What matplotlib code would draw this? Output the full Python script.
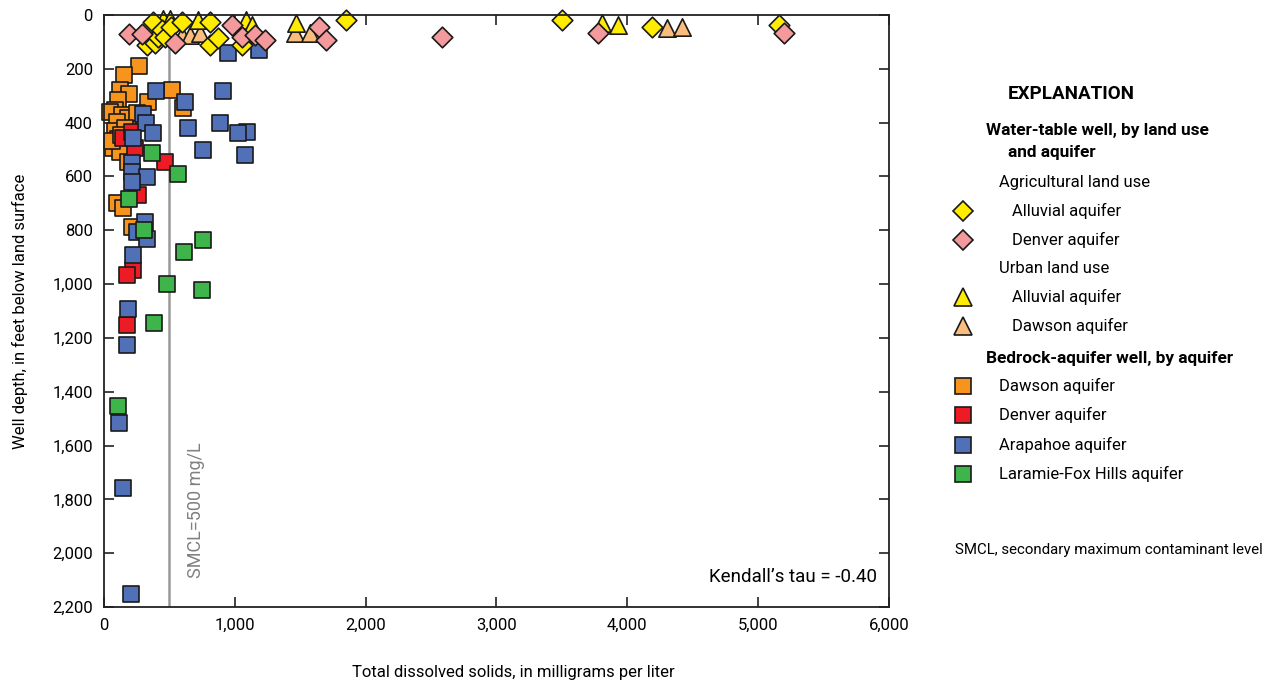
import matplotlib
matplotlib.use("Agg")
import matplotlib.pyplot as plt
from matplotlib.lines import Line2D
from matplotlib.ticker import FuncFormatter

plt.rcParams['font.family'] = ['Roboto', 'DejaVu Sans']

# ---------------- data (TDS mg/L, well depth ft) ----------------
ag_alluvial_tds = [377, 326, 390, 413, 441, 466, 512, 594, 810, 810, 872, 1053, 1848, 3499, 4187, 5163]
ag_alluvial_depth = [25, 111, 105, 80, 56, 80, 43, 25, 25, 111, 86, 111, 19, 19, 43, 37]

ag_denver_tds = [194, 288, 543, 976, 1053, 1154, 1231, 1646, 1697, 2580, 3779, 5194]
ag_denver_depth = [72, 72, 105, 37, 80, 74, 93, 43, 93, 82, 68, 68]

urban_alluvial_tds = [450, 505, 721, 1086, 1129, 1468, 3805, 3927]
urban_alluvial_depth = [15, 15, 19, 19, 37, 31, 31, 37]

urban_dawson_tds = [594, 657, 734, 1460, 1575, 4302, 4417]
urban_dawson_depth = [74, 74, 67, 68, 68, 49, 43]

bed_dawson_tds = [270, 153, 122, 194, 110, 339, 517, 607, 84, 46, 135, 186, 249, 97, 84,
                  160, 110, 71, 122, 186, 97, 143, 216, 60, 130]
bed_dawson_depth = [188, 223, 279, 294, 316, 322, 279, 347, 353, 359, 372, 384, 365, 396, 430,
                    420, 460, 495, 508, 545, 699, 718, 787, 470, 445]

bed_denver_tds = [148, 212, 237, 466, 262, 219, 173, 173]
bed_denver_depth = [458, 434, 495, 545, 669, 948, 966, 1152]

bed_arapahoe_tds = [950, 1188, 397, 907, 619, 296, 321, 377, 645, 887, 1091, 1027, 219, 760, 1078,
                    216, 212, 331, 212, 313, 250, 326, 224, 186, 173, 115, 143, 204]
bed_arapahoe_depth = [140, 130, 281, 281, 322, 368, 400, 440, 419, 400, 434, 440, 458, 502, 520,
                      549, 582, 601, 619, 768, 805, 834, 892, 1093, 1226, 1515, 1759, 2152]

bed_lfh_tds = [369, 563, 191, 308, 754, 612, 484, 747, 385, 110]
bed_lfh_depth = [514, 591, 684, 800, 836, 882, 1001, 1022, 1146, 1452]

smcl = 500
x_ticks = [0, 1000, 2000, 3000, 4000, 5000, 6000]
y_ticks = [0, 200, 400, 600, 800, 1000, 1200, 1400, 1600, 1800, 2000, 2200]

# ---------------- styles ----------------
C_YEL = '#FFEC00'
C_PINK = '#F49A9C'
C_LORANGE = '#F9BD7D'
C_ORANGE = '#F7941D'
C_RED = '#ED1C24'
C_BLUE = '#5070B8'
C_GREEN = '#3DB54A'
EC = '#1a1a1a'

W, H = 1276, 688
fig = plt.figure(figsize=(W / 100, H / 100), dpi=100)
ax = fig.add_axes([104 / W, 1 - 607 / H, (889 - 104) / W, (607 - 15) / H])

ax.set_xlim(0, 6000)
ax.set_ylim(2200, 0)

ax.axvline(smcl, color='#999999', lw=1.8, zorder=1)

sq = 12.2 ** 2
dia = 10.5 ** 2
tri = 12.5 ** 2
lw = 1.2

series = [
    (bed_dawson_tds, bed_dawson_depth, 's', C_ORANGE, sq),
    (bed_denver_tds, bed_denver_depth, 's', C_RED, sq),
    (bed_arapahoe_tds, bed_arapahoe_depth, 's', C_BLUE, sq),
    (bed_lfh_tds, bed_lfh_depth, 's', C_GREEN, sq),
    (urban_dawson_tds, urban_dawson_depth, '^', C_LORANGE, tri),
    (urban_alluvial_tds, urban_alluvial_depth, '^', C_YEL, tri),
    (ag_alluvial_tds, ag_alluvial_depth, 'D', C_YEL, dia),
    (ag_denver_tds, ag_denver_depth, 'D', C_PINK, dia),
]
for i, (xs, ys, m, c, s) in enumerate(series):
    ax.scatter(xs, ys, marker=m, s=s, facecolor=c, edgecolor=EC, linewidth=lw,
               zorder=3 + i, clip_on=False)

comma = FuncFormatter(lambda v, p: f"{int(v):,}")
ax.set_xticks(x_ticks)
ax.set_yticks(y_ticks)
ax.xaxis.set_major_formatter(comma)
ax.yaxis.set_major_formatter(comma)
ax.tick_params(direction='in', length=7, width=1.2, color='#222222', labelsize=12,
               top=True, right=True, pad=8)
for sp in ax.spines.values():
    sp.set_linewidth(1.3)
    sp.set_color('#222222')
    sp.set_zorder(20)

fig.text(513 / W, 1 - 673 / H, 'Total dissolved solids, in milligrams per liter',
         ha='center', va='center', fontsize=12)
fig.text(20 / W, 1 - 311 / H, 'Well depth, in feet below land surface',
         ha='center', va='center', rotation=90, fontsize=12)

ax.text(0.985, 0.05, "Kendall\u2019s tau = -0.40", transform=ax.transAxes,
        ha='right', va='center', fontsize=13.5)
ax.text(smcl + 200, 1840, 'SMCL=500 mg/L', rotation=90, ha='center', va='center',
        fontsize=13, color='#808080')


# ---------------- explanation ----------------
def ftext(x, y, s, size=12, **kw):
    fig.text(x / W, 1 - y / H, s, va='center', fontsize=size, **kw)


def fmark(x, y, marker, color, ms):
    fig.add_artist(Line2D([x / W], [1 - y / H], transform=fig.transFigure, marker=marker,
                          markersize=ms, markerfacecolor=color, markeredgecolor=EC,
                          markeredgewidth=lw, linestyle='none'))


ftext(1071, 94, 'EXPLANATION', size=13.5, fontweight='bold', ha='center')
ftext(986, 130, 'Water-table well, by land use', size=12.4, fontweight='bold')
ftext(1008, 153, 'and aquifer', size=12.4, fontweight='bold')
ftext(999, 183, 'Agricultural land use')
fmark(963, 211, 'D', C_YEL, 10.5)
ftext(1012, 211, 'Alluvial aquifer')
fmark(963, 240, 'D', C_PINK, 10.5)
ftext(1012, 240, 'Denver aquifer')
ftext(999, 269, 'Urban land use')
fmark(963, 297, '^', C_YEL, 12.5)
ftext(1012, 297, 'Alluvial aquifer')
fmark(963, 326, '^', C_LORANGE, 12.5)
ftext(1012, 326, 'Dawson aquifer')
ftext(986, 358, 'Bedrock-aquifer well, by aquifer', size=12.4, fontweight='bold')
for yy, c, lab in [(386, C_ORANGE, 'Dawson aquifer'), (415, C_RED, 'Denver aquifer'),
                   (445, C_BLUE, 'Arapahoe aquifer'), (474, C_GREEN, 'Laramie-Fox Hills aquifer')]:
    fmark(963, yy, 's', c, 12.2)
    ftext(999, yy, lab)
ftext(955, 550, 'SMCL, secondary maximum contaminant level', size=10.8)

fig.savefig('out.png', dpi=100)
